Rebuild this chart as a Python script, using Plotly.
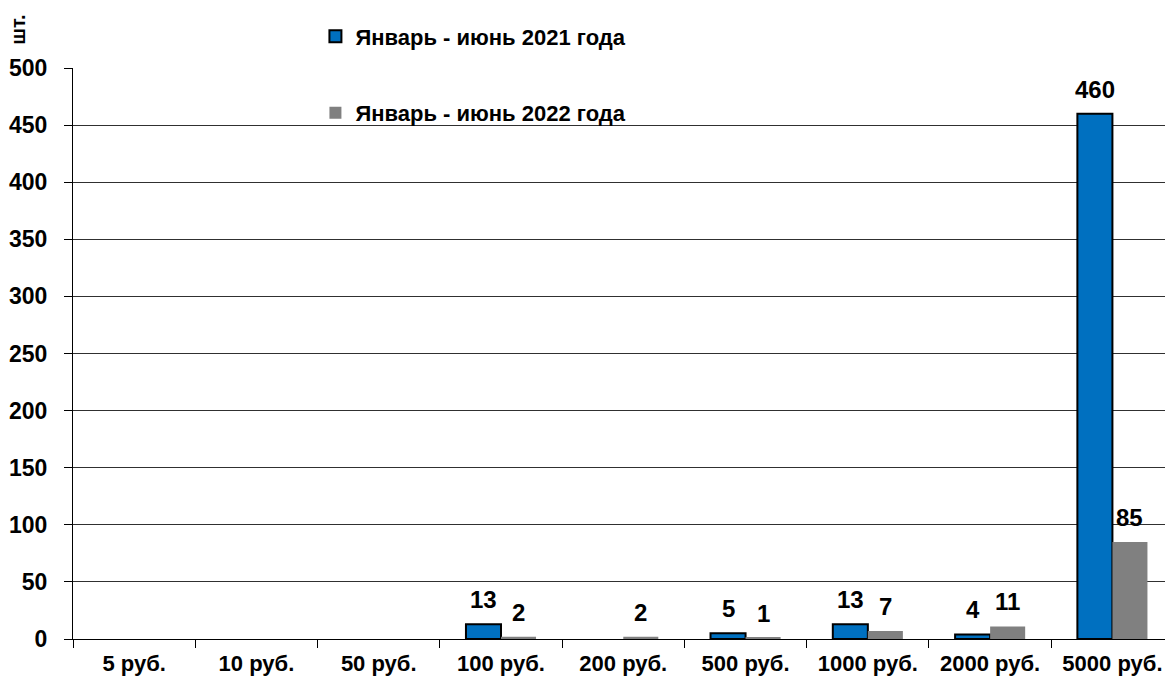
import plotly.graph_objects as go

categories = ["5 руб.", "10 руб.", "50 руб.", "100 руб.", "200 руб.",
              "500 руб.", "1000 руб.", "2000 руб.", "5000 руб."]
values_2021 = [0, 0, 0, 13, 0, 5, 13, 4, 460]
values_2022 = [0, 0, 0, 2, 2, 1, 7, 11, 85]
name_2021 = "Январь - июнь 2021 года"
name_2022 = "Январь - июнь 2022 года"

FONT = "Liberation Sans, Arial"

fig = go.Figure()
fig.add_trace(go.Bar(
    x=categories, y=[v if v else None for v in values_2021], name=name_2021, legendgroup="a",
    marker=dict(color="#0070C0", line=dict(color="#000000", width=2)),
))
fig.add_trace(go.Bar(
    x=categories, y=[v if v else None for v in values_2022], name=name_2022, legendgroup="b",
    marker=dict(color="#808080", line=dict(width=0)),
))

# value labels above bars (zeros are not labelled)
for vals, shift in ((values_2021, -17.5), (values_2022, 17.5)):
    for cat, v in zip(categories, vals):
        if v:
            fig.add_annotation(x=cat, y=v, text=f"<b>{v}</b>", showarrow=False,
                               xshift=shift, yshift=9, yanchor="bottom",
                               font=dict(size=24, color="#000000", family=FONT))

fig.add_annotation(xref="paper", yref="paper", x=-0.05, y=1.038, text="<b>шт.</b>",
                   textangle=-90, showarrow=False, xanchor="center", yanchor="bottom",
                   font=dict(size=20, color="#000000", family=FONT))

fig.update_layout(
    width=1165, height=688,
    paper_bgcolor="white", plot_bgcolor="white",
    margin=dict(l=73, r=0, t=68, b=49, autoexpand=False),
    barmode="group", bargap=0.427, bargroupgap=0,
    font=dict(family=FONT, size=22, color="#000000"),
    legend=dict(x=0.222, y=1.092, xanchor="left", yanchor="top",
                traceorder="grouped", tracegroupgap=45,
                bgcolor="rgba(0,0,0,0)",
                font=dict(size=22, family=FONT, weight="bold")),
    xaxis=dict(range=[-0.5, 8.43], showline=True, linecolor="#000000", linewidth=1,
               ticks="outside", tickson="boundaries", ticklen=8, tickcolor="#000000",
               ticklabelstandoff=5, tickangle=0,
               tickfont=dict(size=22, family=FONT, weight="bold")),
    yaxis=dict(range=[0, 500], dtick=50, showline=True, linecolor="#000000", linewidth=1,
               showgrid=True, gridcolor="#303030", gridwidth=1,
               ticks="outside", ticklen=8, tickcolor="#000000",
               ticklabelstandoff=12,
               tickfont=dict(size=23, family=FONT, weight="bold")),
)

fig.write_html("out.html", config={"displayModeBar": False},
               post_script="document.body.style.margin='0';")
